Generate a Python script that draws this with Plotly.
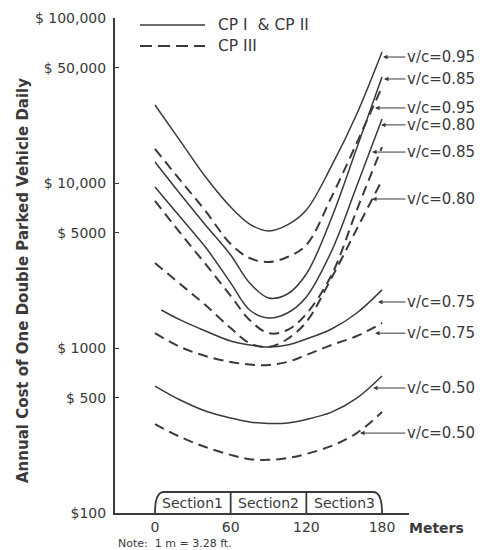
import numpy as np
import plotly.graph_objects as go

# ---------------- data ----------------
distance_m = [0, 20, 40, 60, 75, 90, 105, 120, 140, 160, 180]
distance_m_075 = [5, 20, 40, 60, 75, 90, 105, 120, 140, 160, 180]

# CP I & CP II (solid)
cp12_095 = [29700, 18000, 10900, 7150, 5640, 5120, 5570, 6860, 12700, 26200, 62200]
cp12_085 = [13400, 8580, 5570, 3660, 2480, 2010, 2125, 2810, 6140, 16300, 43900]
cp12_080 = [9460, 6220, 4090, 2480, 1700, 1520, 1630, 2040, 3870, 9590, 24400]
cp12_075 = [1700, 1480, 1268, 1102, 1043, 1014, 1043, 1134, 1304, 1630, 2250]
cp12_050 = [588, 484, 415, 376, 356, 349, 351, 369, 409, 497, 677]

# CP III (dashed)
cp3_095 = [16100, 10400, 6770, 4270, 3510, 3320, 3560, 4210, 8230, 17500, 38200]
cp3_085 = [7780, 4980, 3230, 2070, 1480, 1230, 1285, 1610, 2770, 6860, 16500]
cp3_080 = [3275, 2440, 1820, 1320, 1070, 1014, 1134, 1438, 2660, 5260, 10400]
cp3_075 = [1230, 1014, 894, 823, 794, 789, 823, 907, 1043, 1182, 1418]
cp3_050 = [346, 289, 251, 225, 212, 210, 215, 228, 255, 305, 409]

y_tick_vals = [100, 500, 1000, 5000, 10000, 50000, 100000]
y_tick_text = ["$100", "$ 500", "$ 1000", "$ 5000", "$ 10,000", "$ 50,000", "$ 100,000"]
x_tick_vals = [0, 60, 120, 180]
x_tick_text = ["0", "60", "120", "180"]

sections = ["Section1", "Section2", "Section3"]
section_bounds = [0, 60, 120, 180]

# curve labels: text, arrow-tip distance (m), arrow-tip cost ($)
curve_labels = [
    ("v/c=0.95", 180.8, 58000),
    ("v/c=0.85", 181.6, 42700),
    ("v/c=0.95", 174.5, 28500),
    ("v/c=0.80", 179.2, 22500),
    ("v/c=0.85", 172.1, 15400),
    ("v/c=0.80", 172.1, 8000),
    ("v/c=0.75", 176.8, 1900),
    ("v/c=0.75", 174.5, 1230),
    ("v/c=0.50", 172.9, 572),
    ("v/c=0.50", 162.6, 305),
]

INK = "#3a3a3a"
FONT = "DejaVu Sans"

fig = go.Figure()

solid = [(distance_m, cp12_095), (distance_m, cp12_085), (distance_m, cp12_080),
         (distance_m_075, cp12_075), (distance_m, cp12_050)]
dashed = [(distance_m, cp3_095), (distance_m, cp3_085), (distance_m, cp3_080),
          (distance_m, cp3_075), (distance_m, cp3_050)]

for xs, ys in solid:
    fig.add_trace(go.Scatter(x=xs, y=ys, mode="lines", showlegend=False,
                             line=dict(color=INK, width=1.5, shape="spline", smoothing=1.0),
                             hoverinfo="skip"))
for xs, ys in dashed:
    fig.add_trace(go.Scatter(x=xs, y=ys, mode="lines", showlegend=False,
                             line=dict(color=INK, width=2.0, shape="spline", smoothing=1.0,
                                       dash="10px,6px"),
                             hoverinfo="skip"))

# the page body has an 8px margin: the figure is drawn 8px in from the top-left
OFF = 8
W, H = 487 - OFF, 550 - OFF
ML, MR, MT, MB = 115 - OFF, 78, 18 - OFF, 37
PW = W - ML - MR
PH = H - MT - MB


def px_to_paper_x(px):
    return (px - OFF - ML) / PW


def px_to_paper_y(py):
    return (H - MB - (py - OFF)) / PH


annotations = []
shapes = []

# curve labels with arrows
text_left_px = 407
for txt, xm, cost in curve_labels:
    annotations.append(dict(x=xm, y=np.log10(cost), xref="x", yref="y",
                            text="", showarrow=True, arrowhead=2, arrowsize=0.9,
                            arrowwidth=1, arrowcolor=INK, standoff=0,
                            ax=text_left_px - (155 + xm * 227 / 180), ay=0,
                            axref="pixel", ayref="pixel"))
    annotations.append(dict(x=px_to_paper_x(text_left_px - 2), y=np.log10(cost), xref="paper", yref="y",
                            text=txt, showarrow=False, xanchor="left", yanchor="middle",
                            font=dict(family=FONT, size=15, color=INK)))

# section bracket
r_x = 7
top = px_to_paper_y(492)
bot = 0
path = (f"M {section_bounds[0]},{bot} Q {section_bounds[0]},{top} {section_bounds[0] + r_x},{top} "
        f"L {section_bounds[-1] - r_x},{top} Q {section_bounds[-1]},{top} {section_bounds[-1]},{bot}")
shapes.append(dict(type="path", path=path, xref="x", yref="paper",
                   line=dict(color=INK, width=1.8)))
for b in section_bounds[1:-1]:
    shapes.append(dict(type="line", x0=b, x1=b, y0=bot, y1=top, xref="x", yref="paper",
                       line=dict(color=INK, width=1.8)))
for i, s in enumerate(sections):
    annotations.append(dict(x=(section_bounds[i] + section_bounds[i + 1]) / 2,
                            y=px_to_paper_y(502.5), xref="x", yref="paper",
                            text=s, showarrow=False, xanchor="center", yanchor="middle",
                            font=dict(family=FONT, size=14, color=INK)))

# legend (manual)
shapes.append(dict(type="line", xref="paper", yref="paper",
                   x0=px_to_paper_x(140), x1=px_to_paper_x(205),
                   y0=px_to_paper_y(25), y1=px_to_paper_y(25),
                   line=dict(color=INK, width=1.6)))
shapes.append(dict(type="line", xref="paper", yref="paper",
                   x0=px_to_paper_x(140), x1=px_to_paper_x(205),
                   y0=px_to_paper_y(46), y1=px_to_paper_y(46),
                   line=dict(color=INK, width=1.8, dash="12px,6px")))
annotations.append(dict(x=px_to_paper_x(216), y=px_to_paper_y(25), xref="paper", yref="paper",
                        text="CP I&nbsp; &amp;&nbsp;CP II", showarrow=False, xanchor="left",
                        yanchor="middle", font=dict(family=FONT, size=15.5, color=INK)))
annotations.append(dict(x=px_to_paper_x(216), y=px_to_paper_y(46), xref="paper", yref="paper",
                        text="CP III", showarrow=False, xanchor="left", yanchor="middle",
                        font=dict(family=FONT, size=15.5, color=INK)))

# axis title, unit, note
annotations.append(dict(x=px_to_paper_x(23), y=px_to_paper_y(281), xref="paper", yref="paper",
                        text="<b>Annual Cost of One Double Parked Vehicle Daily</b>",
                        textangle=-90, showarrow=False, xanchor="center", yanchor="middle",
                        font=dict(family=FONT, size=15, color=INK)))
annotations.append(dict(x=px_to_paper_x(407), y=px_to_paper_y(528), xref="paper", yref="paper",
                        text="<b>Meters</b>", showarrow=False, xanchor="left", yanchor="middle",
                        font=dict(family=FONT, size=14, color=INK)))
annotations.append(dict(x=px_to_paper_x(116), y=px_to_paper_y(543), xref="paper", yref="paper",
                        text="Note:&nbsp; 1 m = 3.28 ft.", showarrow=False, xanchor="left",
                        yanchor="middle", font=dict(family=FONT, size=11, color=INK)))

fig.update_layout(
    width=W, height=H,
    margin=dict(l=ML, r=MR, t=MT, b=MB, pad=0, autoexpand=False),
    paper_bgcolor="white", plot_bgcolor="white",
    showlegend=False,
    shapes=shapes, annotations=annotations,
    xaxis=dict(range=[-31.7, 201.4], tickvals=x_tick_vals, ticktext=x_tick_text,
               automargin=False,
               showgrid=False, zeroline=False, showline=True, linecolor=INK, linewidth=2,
               ticks="", tickfont=dict(family=FONT, size=14, color=INK)),
    yaxis=dict(type="log", range=[2, 5], tickvals=y_tick_vals, ticktext=y_tick_text,
               automargin=False,
               showgrid=False, zeroline=False, showline=True, linecolor=INK, linewidth=2,
               ticks="inside", ticklen=4, tickcolor=INK, ticklabelstandoff=4,
               tickfont=dict(family=FONT, size=14, color=INK)),
)

fig.write_html("out.html")
